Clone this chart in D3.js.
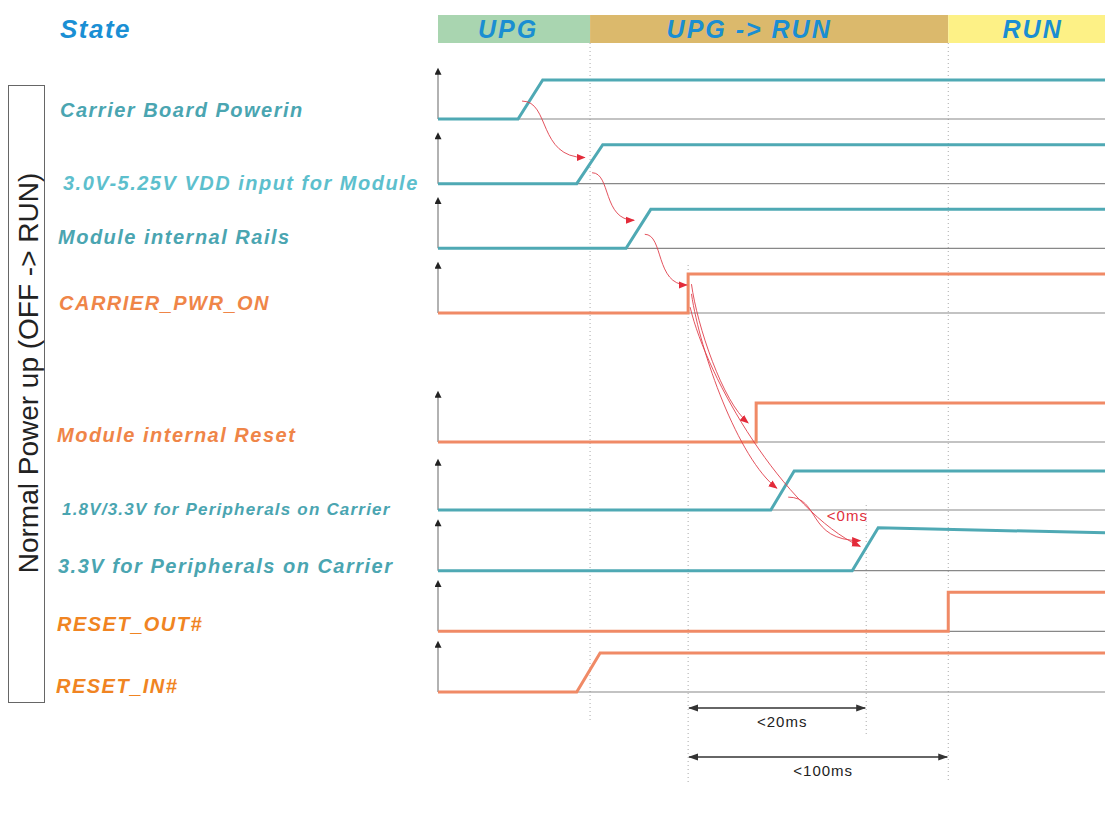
<!DOCTYPE html>
<html>
<head>
<meta charset="utf-8">
<script src="https://cdn.jsdelivr.net/npm/d3@7"></script>
<style>
  body { margin: 0; background: #fff; }
  text { font-family: 'Liberation Sans', Arial, sans-serif; }
</style>
</head>
<body>
<div id="chart"></div>
<script>
// states along the time axis (arbitrary units 0..100)
const states = ['UPG', 'UPG -> RUN', 'RUN']
const stateStart = [0, 22.8, 76.5]
const stateEnd = [22.8, 76.5, 100]

// signals, one lane each
const signals = [
  'Carrier Board Powerin',
  '3.0V-5.25V VDD input for Module',
  'Module internal Rails',
  'CARRIER_PWR_ON',
  'Module internal Reset',
  '1.8V/3.3V for Peripherals on Carrier',
  '3.3V for Peripherals on Carrier',
  'RESET_OUT#',
  'RESET_IN#'
]
const groups = ['board', 'module-in', 'module', 'control', 'control', 'carrier', 'carrier', 'reset', 'reset']
const riseStart = [12.0, 20.8, 28.2, 37.5, 47.7, 49.9, 62.1, 76.5, 20.8]
const riseEnd = [15.7, 24.7, 31.9, 37.5, 47.7, 53.4, 66.0, 76.5, 24.3]
const highStart = [1, 1, 1, 1, 1, 1, 1.1, 1, 1]
const highEnd = [1, 1, 1, 1, 1, 1, 0.97, 1, 1]

// cause -> effect arrows: [time, lane, level]
const causeFrom = [
  [12.6, 0, 0.46],
  [23.1, 1, 0.28],
  [31.0, 2, 0.36],
  [38.0, 3, 0.74],
  [38.0, 3, 0.49],
  [37.8, 3, 0.15],
  [52.5, 5, 0.33]
]
const causeTo = [
  [22.0, 1, 0.67],
  [29.4, 2, 0.72],
  [37.3, 3, 0.72],
  [46.5, 4, 0.49],
  [50.8, 5, 0.56],
  [63.3, 6, 0.62],
  [63.3, 6, 0.77]
]

// dotted time markers and timing spans
const markTimes = [22.8, 37.5, 64.2, 76.5]
const spans = ['<20ms', '<100ms']
const spanFrom = [37.5, 37.5]
const spanTo = [64.2, 76.5]

const width = 1105
const height = 821

const svg = d3
  .select('#chart')
  .append('svg')
  .attr('width', width)
  .attr('height', height)

const x = d3.scaleLinear().domain([0, 100]).range([438, 1105])
const lane = d3.scaleLinear().domain([0, 3, 4, 5, 8]).range([119, 313, 442, 510, 692])
const amp = 39
const y = (l, level) => lane(l) - amp * level

const lineColor = d => (groups[d] === 'control' || groups[d] === 'reset') ? '#f08a66' : '#4fa9b4'
const labelColor = d3.scaleOrdinal()
  .domain(['board', 'module-in', 'module', 'control', 'carrier', 'reset'])
  .range(['#4aa5b1', '#5dbfcd', '#4aa5b1', '#ef8548', '#4aa5b1', '#f08422'])

const defs = svg.append('defs')
defs.append('marker')
  .attr('id', 'red-head')
  .attr('viewBox', '0 0 10 10')
  .attr('refX', 9).attr('refY', 5)
  .attr('markerWidth', 9).attr('markerHeight', 9)
  .attr('markerUnits', 'userSpaceOnUse')
  .attr('orient', 'auto')
  .append('path').attr('d', 'M0,1 L10,5 L0,9 Z').attr('fill', '#e32b3a')
defs.append('marker')
  .attr('id', 'black-head')
  .attr('viewBox', '0 0 10 10')
  .attr('refX', 9).attr('refY', 5)
  .attr('markerWidth', 10).attr('markerHeight', 10)
  .attr('markerUnits', 'userSpaceOnUse')
  .attr('orient', 'auto-start-reverse')
  .append('path').attr('d', 'M0,1.5 L10,5 L0,8.5 Z').attr('fill', '#333')
defs.append('marker')
  .attr('id', 'axis-head')
  .attr('viewBox', '0 0 10 10')
  .attr('refX', 5).attr('refY', 9)
  .attr('markerWidth', 7).attr('markerHeight', 8)
  .attr('markerUnits', 'userSpaceOnUse')
  .attr('orient', '0')
  .append('path').attr('d', 'M0,10 L5,0 L10,10 Z').attr('fill', '#222')

// header
svg.append('text')
  .attr('x', 60).attr('y', 38)
  .attr('font-size', 26).attr('font-weight', 'bold').attr('font-style', 'italic')
  .attr('letter-spacing', 1.5)
  .attr('fill', '#1a8fd4')
  .text('State')

const stateColor = ['#a9d5b0', '#dbb96c', '#fdf186']
const stateNudge = [-6, -20, 6]
svg.selectAll('.state')
  .data(states)
  .enter()
  .append('rect')
  .attr('x', (d, i) => x(stateStart[i]))
  .attr('width', (d, i) => x(stateEnd[i]) - x(stateStart[i]))
  .attr('y', 15).attr('height', 28)
  .attr('fill', (d, i) => stateColor[i])

svg.selectAll('.state-label')
  .data(states)
  .enter()
  .append('text')
  .attr('x', (d, i) => (x(stateStart[i]) + x(stateEnd[i])) / 2 + stateNudge[i])
  .attr('y', 38)
  .attr('text-anchor', 'middle')
  .attr('font-size', 25).attr('font-weight', 'bold').attr('font-style', 'italic')
  .attr('letter-spacing', 2)
  .attr('fill', '#1a8ed2')
  .text(d => d)

// dotted markers
const markTop = [43, 265, 505, 43]
const markBottom = [722, 782, 736, 782]
svg.selectAll('.mark')
  .data(markTimes)
  .enter()
  .append('line')
  .attr('x1', d => x(d)).attr('x2', d => x(d))
  .attr('y1', (d, i) => markTop[i]).attr('y2', (d, i) => markBottom[i])
  .attr('stroke', '#aaa')
  .attr('stroke-width', 1)
  .attr('stroke-dasharray', '1,3')

// left box with rotated title
svg.append('rect')
  .attr('x', 8.5).attr('y', 85.5).attr('width', 36).attr('height', 617)
  .attr('fill', 'none').attr('stroke', '#666').attr('stroke-width', 1)
svg.append('text')
  .attr('transform', 'translate(38,373) rotate(-90)')
  .attr('text-anchor', 'middle')
  .attr('font-size', 28)
  .attr('fill', '#222')
  .text('Normal Power up (OFF -> RUN)')

// lanes
const idx = d3.range(signals.length)

svg.selectAll('.baseline')
  .data(idx)
  .enter()
  .append('line')
  .attr('x1', x(0)).attr('x2', x(100))
  .attr('y1', d => lane(d)).attr('y2', d => lane(d))
  .attr('stroke', '#888').attr('stroke-width', 1.2)

svg.selectAll('.axis')
  .data(idx)
  .enter()
  .append('line')
  .attr('x1', x(0)).attr('x2', x(0))
  .attr('y1', d => lane(d)).attr('y2', d => lane(d) - amp - 6)
  .attr('stroke', '#999').attr('stroke-width', 1.5)
  .attr('marker-end', 'url(#axis-head)')

const wave = d3.line().x(p => x(p[0])).y(p => p[1])

svg.selectAll('.signal')
  .data(idx)
  .enter()
  .append('path')
  .attr('d', d => wave([
    [0, y(d, 0)],
    [riseStart[d], y(d, 0)],
    [riseEnd[d], y(d, highStart[d])],
    [100, y(d, highEnd[d])]
  ]))
  .attr('fill', 'none')
  .attr('stroke', lineColor)
  .attr('stroke-width', 3)

// label placement tweaks relative to the lane baseline
const labelX = [60, 63, 58, 59, 57, 62, 58, 57, 56]
const labelDy = [-2, 6, -4, -3, 0, 5, 2, 0, 1]
svg.selectAll('.label')
  .data(idx)
  .enter()
  .append('text')
  .attr('x', d => labelX[d])
  .attr('y', d => lane(d) + labelDy[d])
  .attr('font-size', d => signals[d].length > 32 ? 17 : 20)
  .attr('font-weight', 'bold').attr('font-style', 'italic')
  .attr('letter-spacing', d => signals[d].length > 32 ? 1.2 : 1.5)
  .attr('fill', d => labelColor(groups[d]))
  .text(d => signals[d])

// cause -> effect arrows
svg.selectAll('.cause')
  .data(causeFrom)
  .enter()
  .append('path')
  .attr('d', (d, i) => {
    const t = causeTo[i]
    const x0 = x(d[0]), y0 = y(d[1], d[2])
    const x1 = x(t[0]), y1 = y(t[1], t[2])
    const dx = x1 - x0, dy = y1 - y0
    const p = d3.path()
    p.moveTo(x0, y0)
    if (dy > 100) {
      // long drops from CARRIER_PWR_ON
      p.bezierCurveTo(x0 + 0.1 * dx, y0 + 0.3 * dy, x1 - 0.45 * dx, y1 - 0.15 * dy, x1, y1)
    } else {
      p.bezierCurveTo(x0 + 0.45 * dx, y0, x0 + 0.25 * dx, y1, x1, y1)
    }
    return p.toString()
  })
  .attr('fill', 'none')
  .attr('stroke', '#e0404c')
  .attr('stroke-width', 0.9)
  .attr('marker-end', 'url(#red-head)')

svg.append('text')
  .attr('x', x(58.3)).attr('y', y(5, -0.28))
  .attr('font-size', 15).attr('letter-spacing', 1)
  .attr('fill', '#e0303c')
  .text('<0ms')

// timing spans
const spanY = [708, 757]
svg.selectAll('.span')
  .data(spans)
  .enter()
  .append('line')
  .attr('x1', (d, i) => x(spanFrom[i]) + 1).attr('x2', (d, i) => x(spanTo[i]) - 1)
  .attr('y1', (d, i) => spanY[i]).attr('y2', (d, i) => spanY[i])
  .attr('stroke', '#333').attr('stroke-width', 1.6)
  .attr('marker-start', 'url(#black-head)')
  .attr('marker-end', 'url(#black-head)')

svg.selectAll('.span-label')
  .data(spans)
  .enter()
  .append('text')
  .attr('x', (d, i) => (x(spanFrom[i]) + x(spanTo[i])) / 2 + 5)
  .attr('y', (d, i) => spanY[i] + 19)
  .attr('text-anchor', 'middle')
  .attr('font-size', 15).attr('letter-spacing', 1)
  .attr('fill', '#222')
  .text(d => d)
</script>
</body>
</html>
